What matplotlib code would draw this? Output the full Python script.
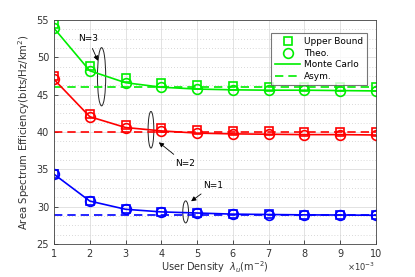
import matplotlib
matplotlib.use("Agg")
import matplotlib.pyplot as plt
from matplotlib.patches import Ellipse
from matplotlib.ticker import MultipleLocator

x = [1, 2, 3, 4, 5, 6, 7, 8, 9, 10]

ub_n3 = [54.5, 48.8, 47.2, 46.6, 46.3, 46.1, 46.05, 46.05, 46.0, 46.0]
th_n3 = [53.9, 48.2, 46.6, 46.0, 45.75, 45.65, 45.6, 45.6, 45.55, 45.5]
asym_n3 = 46.0

ub_n2 = [47.5, 42.4, 41.0, 40.5, 40.3, 40.15, 40.1, 40.05, 40.05, 40.0]
th_n2 = [47.05, 42.05, 40.6, 40.15, 39.85, 39.75, 39.7, 39.65, 39.65, 39.6]
asym_n2 = 40.0

ub_n1 = [34.4, 30.8, 29.7, 29.35, 29.2, 29.05, 29.0, 28.95, 28.92, 28.9]
th_n1 = [34.35, 30.75, 29.65, 29.3, 29.15, 29.0, 28.95, 28.9, 28.88, 28.85]
asym_n1 = 28.85

xtick_labels = ["1", "2", "3", "4", "5", "6", "7", "8", "9", "10"]

fig = plt.figure(figsize=(4.15, 2.77), dpi=100)
ax = fig.add_axes([54/415, 1 - 244/277, (376-54)/415, (244-20)/277])

green = "#00ee00"
series = [(ub_n3, th_n3, asym_n3, green),
          (ub_n2, th_n2, asym_n2, "red"),
          (ub_n1, th_n1, asym_n1, "blue")]

for ub, th, asym, c in series:
    ax.plot(x, ub, linestyle="none", marker="s", markersize=6, mfc="none",
            mec=c, mew=1.2)
    ax.plot(x, th, linestyle="none", marker="o", markersize=7, mfc="none",
            mec=c, mew=1.2)
    ax.plot(x, th, linestyle="-", color=c, lw=1.2)
    ax.plot([x[0], x[-1]], [asym, asym], linestyle="--", color=c, lw=1.2,
            dashes=(5, 3))

# legend handles
h1, = ax.plot([], [], linestyle="none", marker="s", markersize=6, mfc="none", mec=green, mew=1.2)
h2, = ax.plot([], [], linestyle="none", marker="o", markersize=7, mfc="none", mec=green, mew=1.2)
h3, = ax.plot([], [], linestyle="-", color=green, lw=1.2)
h4, = ax.plot([], [], linestyle="--", color=green, lw=1.2, dashes=(5, 3))
leg = ax.legend([h1, h2, h3, h4], ["Upper Bound", "Theo.", "Monte Carlo", "Asym."],
                loc="upper right", bbox_to_anchor=(0.972, 0.942), borderaxespad=0,
                fontsize=6.5, frameon=True, fancybox=False, edgecolor="#555555",
                handlelength=2.8, borderpad=0.45, labelspacing=0.3, handletextpad=0.4)
leg.get_frame().set_linewidth(0.8)

ax.set_xlim(1, 10)
ax.set_ylim(25, 55)
ax.set_xticks(x)
ax.set_xticklabels(xtick_labels)
ax.set_yticks([25, 30, 35, 40, 45, 50, 55])
ax.yaxis.set_minor_locator(MultipleLocator(1.25))
ax.tick_params(axis="both", which="major", labelsize=7, colors="#333333",
               direction="in", length=3, width=0.6)
ax.tick_params(axis="y", which="minor", length=0)
ax.grid(True, which="major", color="#dddddd", lw=0.6)
ax.grid(True, which="minor", axis="y", color="#cccccc", lw=0.6, linestyle=(0, (1, 2.5)))
ax.set_axisbelow(True)
for s in ax.spines.values():
    s.set_color("#444444")
    s.set_linewidth(0.6)

ax.set_ylabel("Area Spectrum Efficiency(bits/Hz/km$^{2}$)", fontsize=7.3, color="#333333", labelpad=3)
ax.set_xlabel("User Density  $\\lambda_u$(m$^{-2}$)", fontsize=7, color="#333333", labelpad=0.5)
fig.text(375/415, 1 - 267/277, "$\\times10^{-3}$", fontsize=6, color="#333333", ha="right", va="center")

# annotations
ax.add_patch(Ellipse((2.33, 47.4), 0.23, 7.8, fill=False, ec="#222222", lw=0.7))
ax.annotate("N=3", xy=(2.26, 49.2), xytext=(1.95, 52.5), fontsize=6.5, ha="center", va="center",
            arrowprops=dict(arrowstyle="-|>", color="black", lw=0.6, mutation_scale=7))
ax.add_patch(Ellipse((3.71, 40.3), 0.16, 4.9, fill=False, ec="#222222", lw=0.7))
ax.annotate("N=2", xy=(3.87, 38.85), xytext=(4.66, 35.8), fontsize=6.5, ha="center", va="center",
            arrowprops=dict(arrowstyle="-|>", color="black", lw=0.6, mutation_scale=7))
ax.add_patch(Ellipse((4.68, 29.3), 0.16, 2.95, fill=False, ec="#222222", lw=0.7))
ax.annotate("N=1", xy=(4.77, 30.5), xytext=(5.45, 32.9), fontsize=6.5, ha="center", va="center",
            arrowprops=dict(arrowstyle="-|>", color="black", lw=0.6, mutation_scale=7))

fig.savefig("out.png", dpi=100)
